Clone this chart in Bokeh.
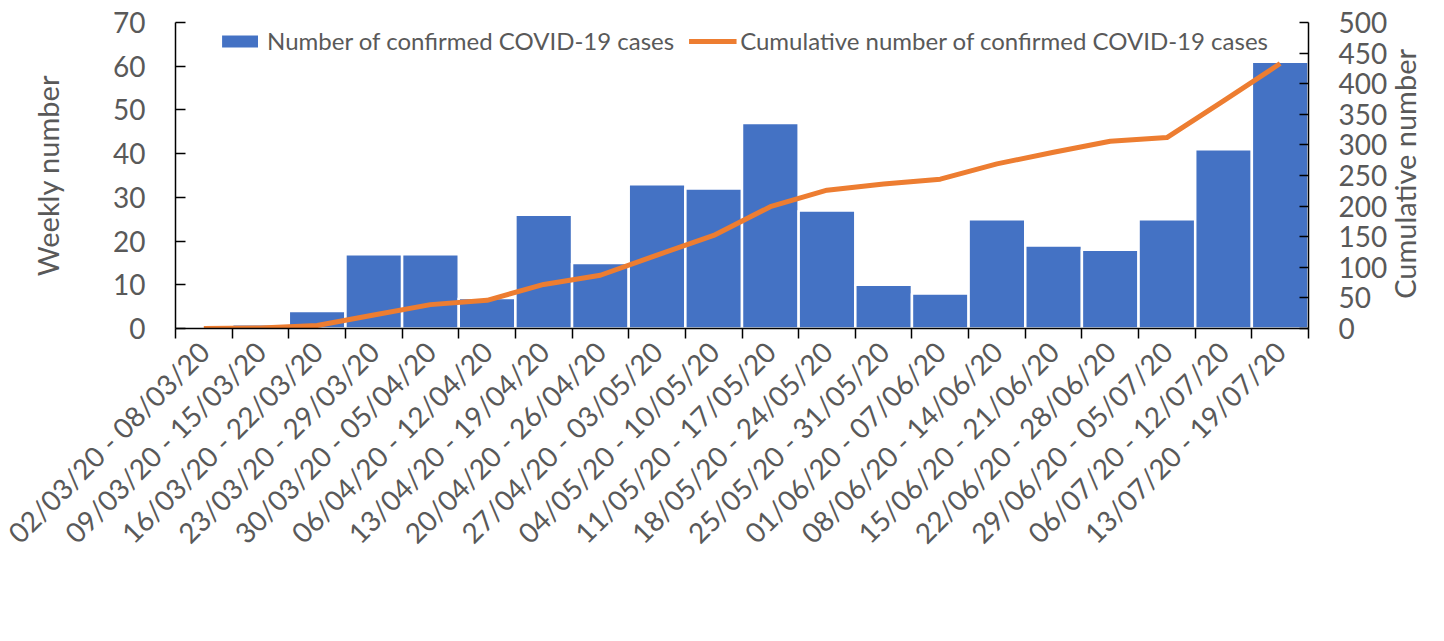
import math
from bokeh.plotting import figure
from bokeh.models import (Range1d, LinearAxis, FixedTicker, Legend, LegendItem,
                          ColumnDataSource, Title)
from bokeh.embed import file_html
from bokeh.resources import INLINE

weeks = ["02/03/20 - 08/03/20", "09/03/20 - 15/03/20", "16/03/20 - 22/03/20",
         "23/03/20 - 29/03/20", "30/03/20 - 05/04/20", "06/04/20 - 12/04/20",
         "13/04/20 - 19/04/20", "20/04/20 - 26/04/20", "27/04/20 - 03/05/20",
         "04/05/20 - 10/05/20", "11/05/20 - 17/05/20", "18/05/20 - 24/05/20",
         "25/05/20 - 31/05/20", "01/06/20 - 07/06/20", "08/06/20 - 14/06/20",
         "15/06/20 - 21/06/20", "22/06/20 - 28/06/20", "29/06/20 - 05/07/20",
         "06/07/20 - 12/07/20", "13/07/20 - 19/07/20"]
weekly = [0, 1, 4, 17, 17, 7, 26, 15, 33, 32, 47, 27, 10, 8, 25, 19, 18, 25, 41, 61]
cumulative = [0, 1, 5, 22, 39, 46, 72, 87, 120, 152, 199, 226, 236, 244, 269, 288,
              306, 312, 372, 433]
left_ticks = [0, 10, 20, 30, 40, 50, 60, 70]
right_ticks = [0, 50, 100, 150, 200, 250, 300, 350, 400, 450, 500]

idx = list(range(len(weeks)))
src = ColumnDataSource(dict(x=idx, weekly=weekly, cum=cumulative, week=weeks))

FONT = "Lato"
GRAY = "#595959"

p = figure(frame_width=1133, frame_height=306, output_backend="svg", toolbar_location=None,
           x_range=Range1d(-0.5, len(weeks) - 0.5), y_range=Range1d(0, 70),
           min_border_left=175, min_border_right=128, min_border_top=22,
           min_border_bottom=0, x_axis_type=None, y_axis_type=None)
p.extra_y_ranges = {"cum": Range1d(0, 500)}
p.outline_line_color = None
p.grid.visible = False

bars = p.vbar(x="x", top="weekly", width=1.0, source=src, fill_color="#4472C4",
              line_color="white", line_width=2.5)
line = p.line(x="x", y="cum", source=src, y_range_name="cum", line_color="#ED7D31",
              line_width=5, line_join="round")

def style_axis(ax):
    ax.axis_line_color = "black"
    ax.axis_line_width = 1.5
    ax.major_tick_line_color = "black"
    ax.major_tick_line_width = 1.5
    ax.minor_tick_line_color = "black"
    ax.minor_tick_line_width = 1.5
    ax.major_label_text_font = FONT
    ax.major_label_text_color = GRAY
    ax.major_label_text_font_size = "28px"
    ax.axis_label_text_font = FONT
    ax.axis_label_text_color = GRAY
    ax.axis_label_text_font_size = "29px"
    ax.axis_label_text_font_style = "normal"

# left axis
yl = LinearAxis(ticker=FixedTicker(ticks=left_ticks), axis_label="Weekly number")
style_axis(yl)
yl.major_tick_in = 10
yl.major_tick_out = 0
yl.minor_tick_in = 0
yl.minor_tick_out = 0
yl.major_label_standoff = 30
yl.axis_label_standoff = 45
p.add_layout(yl, "left")

# right axis
yr = LinearAxis(y_range_name="cum", ticker=FixedTicker(ticks=right_ticks))
style_axis(yr)
yr.major_tick_in = 9
yr.major_tick_out = 0
yr.minor_tick_in = 0
yr.minor_tick_out = 0
yr.major_label_standoff = 30
p.add_layout(yr, "right")

if "axis_label_align" in yr.properties():
    yr.axis_label = "\u00a0\u00a0\u00a0\u00a0Cumulative number"
    yr.axis_label_orientation = math.pi / 2
    yr.axis_label_align = "start"
    yr.axis_label_standoff = 14
else:
    rt = Title(text="Cumulative number", align="center", text_font=FONT,
               text_font_size="29px", text_color=GRAY, text_font_style="normal",
               standoff=14)
    p.add_layout(rt, "right")

# bottom axis: labels at category centres, ticks at category boundaries
xb = LinearAxis(ticker=FixedTicker(ticks=idx, minor_ticks=[i - 0.5 for i in range(len(weeks) + 1)]))
style_axis(xb)
xb.major_label_overrides = {i: w for i, w in enumerate(weeks)}
xb.major_label_orientation = math.pi / 4
xb.major_label_text_font_size = "28px"
xb.major_tick_in = 0
xb.major_tick_out = 0
xb.minor_tick_in = 0
xb.minor_tick_out = 10
xb.major_label_standoff = 8
p.add_layout(xb, "below")

# legend kept inside the empty top strip of the plot so that it stays visible
legend = Legend(items=[LegendItem(label="Number of confirmed COVID-19 cases", renderers=[bars]),
                       LegendItem(label="Cumulative number of confirmed COVID-19 cases", renderers=[line])],
                orientation="horizontal", location="top_center")
legend.label_text_font = FONT
legend.label_text_color = GRAY
legend.label_text_font_size = "24px"
legend.glyph_width = 48
legend.glyph_height = 18
legend.label_standoff = 4
legend.spacing = 14
legend.padding = 0
legend.margin = 4
legend.border_line_color = None
legend.background_fill_alpha = 0
p.add_layout(legend, "center")

open("out.html", "w").write(file_html(p, INLINE))
